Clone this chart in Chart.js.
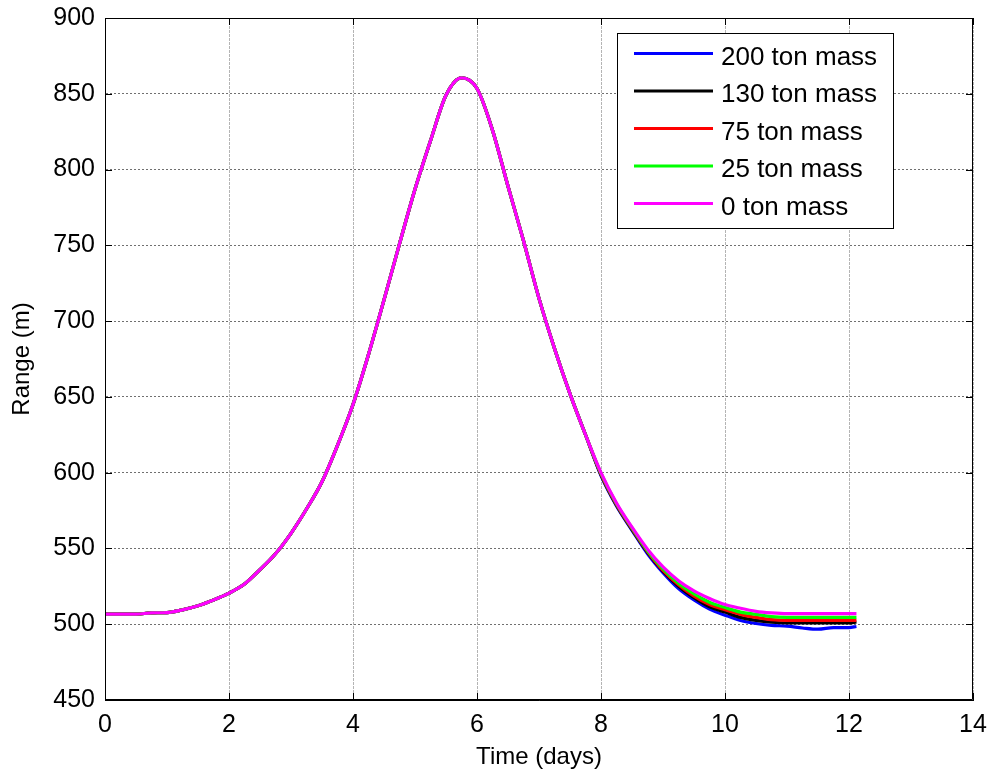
<!DOCTYPE html>
<html>
<head>
<meta charset="utf-8">
<script src="https://cdn.jsdelivr.net/npm/chart.js@4.4.1/dist/chart.umd.min.js"></script>
<style>
  html, body { margin: 0; padding: 0; background: #fff; }
  #wrap { width: 989px; height: 774px; }
</style>
</head>
<body>
<div id="wrap"><canvas id="rangeChart" width="989" height="774"></canvas></div>
<script>
// Time axis (days)
const days = [0, 0.25, 0.5, 0.75, 1, 1.25, 1.5, 1.75, 2, 2.25, 2.5, 2.75, 3, 3.25, 3.5, 3.75,
  4, 4.25, 4.5, 4.75, 5, 5.25, 5.5, 5.75, 6, 6.25, 6.5, 6.75, 7, 7.25, 7.5, 7.75,
  8, 8.25, 8.5, 8.75, 9, 9.25, 9.5, 9.75, 10, 10.25, 10.5, 10.75, 11, 11.25, 11.5, 11.75, 12, 12.12];

// Range (m) per mass
const mass200 = [506.6, 506.6, 506.6, 507.5, 507.7, 509.5, 512.2, 516, 520.5, 526.5,
  536, 546.5, 560, 576, 594, 618, 645, 678, 714, 751,
  787, 819, 849, 860.5, 853.5, 826, 789, 753, 715, 682,
  652, 625, 598, 578, 562, 546.5, 534, 523.5, 516, 510,
  506, 502.5, 500.5, 499.3, 498.7, 497.5, 496.7, 497.8, 497.8, 498.5];
const mass130 = [506.6, 506.6, 506.6, 507.5, 507.7, 509.5, 512.2, 516, 520.5, 526.5,
  536, 546.5, 560, 576, 594, 618, 645, 678, 714, 751,
  787, 819, 849, 860.5, 853.5, 826, 789, 753, 715, 682,
  652, 625, 598.5, 578.5, 562.5, 547.5, 535, 525, 517.5, 511.5,
  508, 504.5, 502.5, 501.3, 500.8, 500.8, 500.8, 500.8, 500.8, 501.5];
const mass75 = [506.6, 506.6, 506.6, 507.5, 507.7, 509.5, 512.2, 516, 520.5, 526.5,
  536, 546.5, 560, 576, 594, 618, 645, 678, 714, 751,
  787, 819, 849, 860.5, 853.5, 826, 789, 753, 715, 682,
  652, 625, 599, 579, 563, 548, 535.5, 526, 518.5, 513,
  509.5, 506.5, 504.5, 503, 502.5, 502.5, 502.5, 502.5, 502.5, 502.5];
const mass25 = [506.6, 506.6, 506.6, 507.5, 507.7, 509.5, 512.2, 516, 520.5, 526.5,
  536, 546.5, 560, 576, 594, 618, 645, 678, 714, 751,
  787, 819, 849, 860.5, 853.5, 826, 789, 753, 715, 682,
  652, 625, 599.5, 579.5, 563.5, 548.5, 536.5, 527, 520, 514.5,
  511, 508, 506.5, 505, 504.5, 504.5, 504.5, 504.5, 504.5, 504.5];
const mass0 = [506.6, 506.6, 506.6, 507.5, 507.7, 509.5, 512.2, 516, 520.5, 526.5,
  536, 546.5, 560, 576, 594, 618, 645, 678, 714, 751,
  787, 819, 849, 860.5, 853.5, 826, 789, 753, 715, 682,
  652, 625, 600, 580, 564, 549.5, 537.8, 528.7, 522, 517,
  513, 510.5, 508.5, 507.5, 507, 507, 507, 507, 507, 507];

const seriesLabels = ['200 ton mass', '130 ton mass', '75 ton mass', '25 ton mass', '0 ton mass'];
const seriesValues = [mass200, mass130, mass75, mass25, mass0];
const seriesColors = ['#0000ff', '#000000', '#ff0000', '#00ff00', '#ff00ff'];

const xTicks = [0, 2, 4, 6, 8, 10, 12, 14];
const yTicks = [450, 500, 550, 600, 650, 700, 750, 800, 850, 900];

const FONT = 'Liberation Sans, Arial, Helvetica, sans-serif';

// matlab-like box, inward ticks and legend inside the axes
const matlabBox = {
    id: 'matlabBox',
    afterDraw(chart) {
        const ctx = chart.ctx;
        const a = chart.chartArea;
        const xs = chart.scales.x;
        const ys = chart.scales.y;
        ctx.save();
        ctx.strokeStyle = '#000';
        ctx.lineWidth = 1;
        ctx.beginPath();
        ctx.rect(a.left + 0.5, a.top + 0.5, a.right - a.left - 1, a.bottom - a.top - 1);
        ctx.stroke();

        // inward tick marks
        const tl = 7;
        ctx.beginPath();
        xTicks.forEach(v => {
            const px = Math.round(xs.getPixelForValue(v)) + 0.5;
            ctx.moveTo(px, a.bottom); ctx.lineTo(px, a.bottom - tl);
            ctx.moveTo(px, a.top); ctx.lineTo(px, a.top + tl);
        });
        yTicks.forEach(v => {
            const py = Math.round(ys.getPixelForValue(v)) + 0.5;
            ctx.moveTo(a.left, py); ctx.lineTo(a.left + tl, py);
            ctx.moveTo(a.right, py); ctx.lineTo(a.right - tl, py);
        });
        ctx.stroke();

        // legend
        const bx = 617, by = 33, bw = 276, bh = 195;
        ctx.fillStyle = '#fff';
        ctx.fillRect(bx, by, bw, bh);
        ctx.strokeRect(bx + 0.5, by + 0.5, bw, bh);
        ctx.font = '26px ' + FONT;
        ctx.textAlign = 'left';
        ctx.textBaseline = 'middle';
        chart.data.datasets.forEach((ds, i) => {
            const ly = 53.5 + i * 37.5;
            ctx.strokeStyle = ds.borderColor;
            ctx.lineWidth = 3;
            ctx.beginPath();
            ctx.moveTo(634, ly);
            ctx.lineTo(713, ly);
            ctx.stroke();
            ctx.fillStyle = '#000';
            ctx.fillText(ds.label, 721, ly + 4);
        });
        ctx.restore();
    }
};

const ctxRange = document.getElementById('rangeChart').getContext('2d');
const rangeChart = new Chart(ctxRange, {
    type: 'line',
    data: {
        datasets: seriesLabels.map((label, i) => ({
            label: label,
            data: days.map((d, k) => ({ x: d, y: seriesValues[i][k] })),
            borderColor: seriesColors[i],
            backgroundColor: seriesColors[i],
            borderWidth: 3.2,
            pointRadius: 0,
            fill: false,
            cubicInterpolationMode: 'monotone',
            order: seriesLabels.length - i, // magenta drawn on top
        }))
    },
    options: {
        responsive: false,
        animation: false,
        layout: {
            padding: { left: 0, top: 18, right: 16, bottom: 0 }
        },
        scales: {
            x: {
                type: 'linear',
                min: 0,
                max: 14,
                afterFit: s => { s.height = 74; s.paddingLeft = 0; s.paddingRight = 0; },
                afterBuildTicks: s => { s.ticks = xTicks.map(v => ({ value: v })); },
                grid: {
                    color: '#b4b4b4',
                    drawTicks: false,
                },
                border: { display: true, color: '#000', dash: [3, 1] },
                ticks: {
                    color: '#000',
                    font: { size: 25, family: FONT },
                    padding: 10,
                    maxRotation: 0,
                },
                title: {
                    display: true,
                    text: 'Time (days)',
                    color: '#000',
                    font: { size: 24, family: FONT },
                    padding: { top: 0, bottom: 2 },
                },
            },
            y: {
                type: 'linear',
                min: 450,
                max: 900,
                afterFit: s => { s.width = 105; s.paddingTop = 0; s.paddingBottom = 0; },
                afterBuildTicks: s => { s.ticks = yTicks.map(v => ({ value: v })); },
                grid: {
                    color: '#707070',
                    drawTicks: false,
                },
                border: { display: true, color: '#000', dash: [2, 2] },
                ticks: {
                    color: '#000',
                    font: { size: 25, family: FONT },
                    padding: 10,
                },
                title: {
                    display: true,
                    text: 'Range (m)',
                    color: '#000',
                    font: { size: 24, family: FONT },
                    padding: { top: 8, bottom: 0 },
                },
            },
        },
        plugins: {
            legend: { display: false },
            tooltip: { enabled: false },
        }
    },
    plugins: [matlabBox]
});
</script>
</body>
</html>
